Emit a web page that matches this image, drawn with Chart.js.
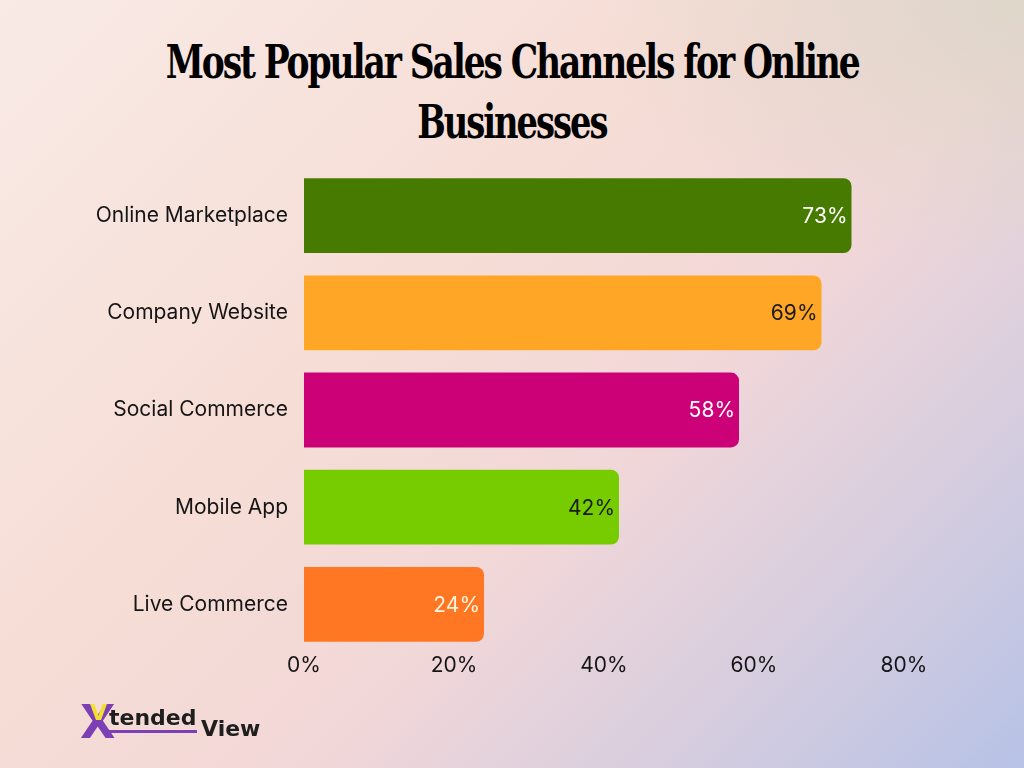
<!DOCTYPE html>
<html>
<head>
<meta charset="utf-8">
<script src="https://cdn.jsdelivr.net/npm/chart.js@4.4.1/dist/chart.umd.min.js"></script>
<style>
    html, body {
        margin: 0;
        padding: 0;
        width: 1024px;
        height: 768px;
        overflow: hidden;
    }
    body {
        position: relative;
        background:
            radial-gradient(ellipse 60% 50% at 100% 0%, rgba(220, 214, 200, 0.9), rgba(220, 214, 200, 0) 70%),
            linear-gradient(135deg, #f9eae6 0%, #f6ddd5 40%, #f2d7d8 60%, #d6cddf 80%, #b7c2e6 100%);
    }
    #title {
        position: absolute;
        left: 0;
        top: 32px;
        width: 1024px;
        text-align: center;
        font-family: "DejaVu Serif Condensed", "DejaVu Serif", serif;
        font-weight: bold;
        font-size: 46px;
        line-height: 60px;
        letter-spacing: -2.5px;
        color: #000;
    }
    #title span {
        display: inline-block;
        transform-origin: 50% 50%;
        white-space: nowrap;
    }
    #chart-wrap {
        position: absolute;
        left: 0;
        top: 0;
        width: 1024px;
        height: 768px;
    }
    #logo {
        position: absolute;
        left: 80px;
        top: 700px;
        height: 44px;
        font-family: "DejaVu Sans", sans-serif;
        font-weight: bold;
        color: #1e1e1e;
    }
    #logo .x {
        position: absolute;
        left: 0;
        top: 0;
        font-size: 46px;
        color: #7d3fb5;
        line-height: 44px;
    }
    #logo .v {
        position: absolute;
        left: 10px;
        top: 2px;
        font-size: 22px;
        color: #f0e030;
        line-height: 22px;
    }
    #logo .tended {
        position: absolute;
        left: 29px;
        top: 6px;
        font-size: 22px;
        line-height: 24px;
        border-bottom: 3px solid #7d3fb5;
    }
    #logo .view {
        position: absolute;
        left: 121px;
        top: 17px;
        font-size: 22px;
        line-height: 24px;
    }
</style>
</head>
<body>
<div id="title"><span data-w="693">Most Popular Sales Channels for Online</span><br><span data-w="189">Businesses</span></div>
<div id="chart-wrap"><canvas id="sales-chart" width="1024" height="768"></canvas></div>
<div id="logo"><span class="x">X</span><span class="v">V</span><span class="tended">tended</span><span class="view">View</span></div>
<script>
// Sales channel shares (percent of online businesses)
const channels = ['Online Marketplace', 'Company Website', 'Social Commerce', 'Mobile App', 'Live Commerce'];
const shares = [73, 69, 58, 42, 24];
const barColors = ['#477a00', '#ffa626', '#cc0077', '#77cc00', '#ff7722'];
const labelColors = ['#ffffff', '#1a1a1a', '#ffffff', '#1a1a1a', '#fff3dd'];
const axisMax = 80;
const axisStep = 20;

(function() {
    const fontFamily = 'Inter, "Noto Sans", sans-serif';

    // squeeze the title lines to the condensed width of the original
    document.querySelectorAll('#title span').forEach((span) => {
        const target = Number(span.dataset.w);
        const actual = span.getBoundingClientRect().width;
        span.style.transform = 'scaleX(' + (target / actual) + ')';
    });

    // draws the value at the end of each bar, inside it
    const valueLabels = {
        id: 'valueLabels',
        afterDatasetsDraw(chart) {
            const ctx = chart.ctx;
            const meta = chart.getDatasetMeta(0);
            ctx.save();
            ctx.font = '21px ' + fontFamily;
            ctx.textAlign = 'right';
            ctx.textBaseline = 'middle';
            meta.data.forEach((bar, i) => {
                ctx.fillStyle = labelColors[i];
                ctx.fillText(shares[i] + '%', bar.x - 4, bar.y + 1);
            });
            ctx.restore();
        }
    };

    const ctx = document.getElementById('sales-chart').getContext('2d');
    new Chart(ctx, {
        type: 'bar',
        data: {
            labels: channels,
            datasets: [{
                data: shares,
                backgroundColor: barColors,
                borderWidth: 0,
                borderRadius: 8,
                borderSkipped: 'start',
                barPercentage: 0.77,
                categoryPercentage: 1
            }]
        },
        options: {
            indexAxis: 'y',
            responsive: false,
            animation: false,
            layout: {
                padding: { left: 0, right: 120, top: 167, bottom: 85 }
            },
            plugins: {
                legend: { display: false },
                tooltip: { enabled: false },
                title: { display: false }
            },
            scales: {
                x: {
                    min: 0,
                    max: axisMax,
                    grid: { display: false, drawTicks: false },
                    border: { display: false },
                    ticks: {
                        stepSize: axisStep,
                        padding: 0,
                        color: '#151515',
                        font: { family: fontFamily, size: 21 },
                        callback: (v) => v + '%'
                    },
                    afterFit: (scale) => { scale.height = 30; }
                },
                y: {
                    grid: { display: false, drawTicks: false },
                    border: { display: false },
                    ticks: {
                        padding: 16,
                        color: '#151515',
                        font: { family: fontFamily, size: 21 }
                    },
                    afterFit: (scale) => { scale.width = 304; }
                }
            }
        },
        plugins: [valueLabels]
    });
})();
</script>
</body>
</html>
